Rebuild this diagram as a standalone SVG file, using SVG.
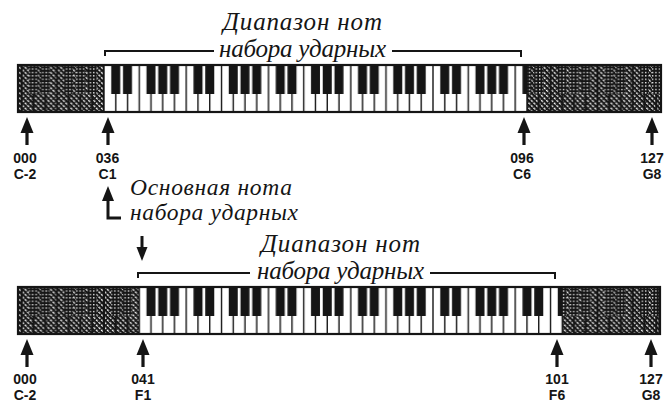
<svg xmlns="http://www.w3.org/2000/svg" xmlns:xlink="http://www.w3.org/1999/xlink" width="667" height="403" viewBox="0 0 667 403">
<style>
.it{font-family:"Liberation Serif","Times New Roman",serif;font-style:italic;font-size:25px;fill:#151515}
.it2{font-size:23.5px}
.lb{font-family:"Liberation Sans",Arial,sans-serif;font-weight:bold;font-size:14px;fill:#151515;text-anchor:middle}
.br{fill:none;stroke:#151515;stroke-width:2}
.ar{fill:#151515}
.sh{fill:none;stroke:#151515;stroke-width:3}
.frame{fill:none;stroke:#151515;stroke-width:2.2}
</style>
<defs>
<pattern id="hw" width="3.6" height="3.6" patternUnits="userSpaceOnUse" patternTransform="rotate(-45)">
<rect width="3.6" height="3.6" fill="#151515"/><rect width="1.3" height="2.4" fill="#fff"/>
</pattern>
<pattern id="hb" width="3.4" height="3.4" patternUnits="userSpaceOnUse">
<rect width="3.4" height="3.4" fill="#151515"/><rect width="1.3" height="1.3" fill="#fff"/>
</pattern>
<pattern id="octW" x="104" y="65" width="82.25" height="47" patternUnits="userSpaceOnUse">
<rect width="82.25" height="47" fill="#fff"/>
<path d="M0 0V47M11.75 0V47M23.5 0V47M35.25 0V47M47 0V47M58.75 0V47M70.5 0V47M82.25 0V47" stroke="#151515" stroke-width="1.4"/>
<g fill="#151515">
<rect x="7.25" y="0" width="9" height="29"/>
<rect x="19" y="0" width="9" height="29"/>
<rect x="42.5" y="0" width="9" height="29"/>
<rect x="54.25" y="0" width="9" height="29"/>
<rect x="66" y="0" width="9" height="29"/>
</g>
</pattern>
<pattern id="octS" x="104" y="65" width="82.25" height="47" patternUnits="userSpaceOnUse">
<rect width="82.25" height="47" fill="url(#hw)"/>
<path d="M0 0V47M11.75 0V47M23.5 0V47M35.25 0V47M47 0V47M58.75 0V47M70.5 0V47M82.25 0V47" stroke="#151515" stroke-width="2"/>
<g fill="url(#hb)">
<rect x="7.25" y="0" width="9" height="29"/>
<rect x="19" y="0" width="9" height="29"/>
<rect x="42.5" y="0" width="9" height="29"/>
<rect x="54.25" y="0" width="9" height="29"/>
<rect x="66" y="0" width="9" height="29"/>
</g>
</pattern>
<path id="up" d="M0 0L6.5 16H1.6V28H-1.6V16H-6.5Z"/>
</defs>
<rect width="667" height="403" fill="#fff"/>

<g id="keyboard-top">
<rect x="18" y="65" width="643" height="47" fill="url(#octS)"/>
<rect x="104" y="65" width="423" height="47" fill="url(#octW)"/>
<rect class="frame" x="18" y="65" width="643" height="47"/>
</g>

<g id="keyboard-bottom" transform="translate(0,222)">
<rect x="18" y="65" width="642" height="47" fill="url(#octS)"/>
<rect x="139.25" y="65" width="423" height="47" fill="url(#octW)"/>
<rect class="frame" x="18" y="65" width="642" height="47"/>
</g>

<g id="range-top">
<path class="br" d="M105 56V51H214"/>
<path class="br" d="M392 51H521V57"/>
<text class="it" x="223" y="30" textLength="159">Диапазон нот</text>
<text class="it" x="219" y="57" textLength="167">набора ударных</text>
</g>

<g id="range-bottom">
<path class="br" d="M138 278V273H250"/>
<path class="br" d="M430 273H555V279"/>
<text class="it" x="261" y="252" textLength="159">Диапазон нот</text>
<text class="it" x="257" y="279" textLength="167">набора ударных</text>
</g>

<g id="base-note">
<text class="it it2" x="130" y="195" textLength="162">Основная нота</text>
<text class="it it2" x="130" y="220" textLength="168">набора ударных</text>
</g>

<g id="labels-top">
<text class="lb" x="25" y="163">000</text><text class="lb" x="25" y="179">C-2</text>
<text class="lb" x="107.5" y="163">036</text><text class="lb" x="107.5" y="179">C1</text>
<text class="lb" x="522" y="163">096</text><text class="lb" x="522" y="179">C6</text>
<text class="lb" x="652" y="163">127</text><text class="lb" x="652" y="179">G8</text>
</g>

<g id="labels-bottom">
<text class="lb" x="25" y="384">000</text><text class="lb" x="25" y="400">C-2</text>
<text class="lb" x="143" y="384">041</text><text class="lb" x="143" y="400">F1</text>
<text class="lb" x="557" y="384">101</text><text class="lb" x="557" y="400">F6</text>
<text class="lb" x="651" y="384">127</text><text class="lb" x="651" y="400">G8</text>
</g>

<g id="connectors" class="ar">
<use href="#up" x="27" y="117"/>
<use href="#up" x="108" y="117"/>
<use href="#up" x="524" y="117"/>
<use href="#up" x="652" y="117"/>
<use href="#up" x="27" y="339"/>
<use href="#up" x="143" y="339"/>
<use href="#up" x="557" y="339"/>
<use href="#up" x="651" y="339"/>
<path d="M108 186L114 201H102Z"/>
<path class="sh" d="M108 200V218H121"/>
<path class="sh" d="M142 236V249"/>
<path d="M136.5 247H147.5L142 261Z"/>
</g>
</svg>
